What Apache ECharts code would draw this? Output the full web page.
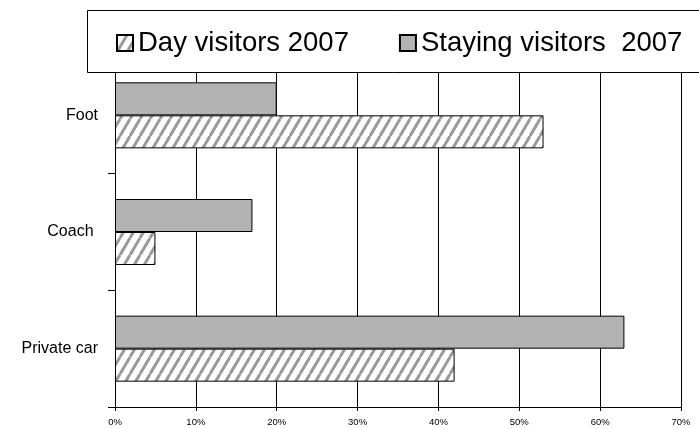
<!DOCTYPE html>
<html>
<head>
<meta charset="utf-8">
<script src="https://cdn.jsdelivr.net/npm/echarts@6/dist/echarts.min.js"></script>
<style>
  html, body { margin: 0; padding: 0; background: #fff; }
  #chart { width: 699px; height: 429px; }
</style>
</head>
<body>
<div id="chart"></div>
<script>
var categories = ['Private car', 'Coach ', 'Foot'];
var dayVisitors = [42, 5, 53];
var stayingVisitors = [63, 17, 20];
var seriesNames = ['Day visitors 2007', 'Staying visitors  2007'];

// diagonal hatch for the day visitors bars
function makeHatch() {
  var w = 10, h = 17;
  var c = document.createElement('canvas');
  c.width = w;
  c.height = h;
  var ctx = c.getContext('2d');
  ctx.fillStyle = '#ffffff';
  ctx.fillRect(0, 0, w, h);
  ctx.strokeStyle = '#9a9a9a';
  ctx.lineWidth = 3;
  for (var k = -1; k <= 1; k++) {
    ctx.beginPath();
    ctx.moveTo(k * w, h);
    ctx.lineTo(k * w + w, 0);
    ctx.stroke();
  }
  return c;
}

var chart = echarts.init(document.getElementById('chart'));

var option = {
  animation: false,
  grid: {
    left: 115,
    right: 18,
    top: 57,
    bottom: 22
  },
  graphic: [{
    type: 'rect',
    z: 3,
    shape: { x: 87.5, y: 10.5, width: 640, height: 62 },
    style: { fill: '#fff', stroke: '#000', lineWidth: 1 }
  }],
  legend: {
    left: 116,
    top: 29,
    padding: 0,
    itemWidth: 16,
    itemHeight: 16,
    itemGap: 50,
    icon: 'rect',
    data: seriesNames,
    textStyle: {
      fontFamily: 'Liberation Sans',
      fontSize: 27.5,
      lineHeight: 28,
      color: '#000'
    }
  },
  xAxis: {
    type: 'value',
    min: 0,
    max: 70,
    interval: 10,
    axisLine: { show: true, lineStyle: { color: '#000', width: 1 } },
    axisTick: { show: true, length: 4, lineStyle: { color: '#000' } },
    splitLine: { show: true, lineStyle: { color: '#000', width: 1 } },
    axisLabel: {
      formatter: '{value}%',
      fontFamily: 'Liberation Sans',
      fontSize: 9.5,
      color: '#000',
      margin: 10
    }
  },
  yAxis: {
    type: 'category',
    data: categories,
    axisLine: { show: true, lineStyle: { color: '#000', width: 1 } },
    axisTick: { show: true, length: 7, lineStyle: { color: '#000' } },
    axisLabel: {
      fontFamily: 'Liberation Sans',
      fontSize: 16,
      color: '#000',
      margin: 17
    }
  },
  series: [
    {
      name: seriesNames[1],
      type: 'bar',
      data: stayingVisitors,
      barWidth: 33,
      barGap: '0%',
      itemStyle: {
        color: '#b3b3b3',
        borderColor: '#000',
        borderWidth: 1
      }
    },
    {
      name: seriesNames[0],
      type: 'bar',
      data: dayVisitors,
      barWidth: 33,
      barGap: '0%',
      itemStyle: {
        color: { image: makeHatch(), repeat: 'repeat' },
        borderColor: '#000',
        borderWidth: 1
      }
    }
  ]
};

chart.setOption(option);
</script>
</body>
</html>
